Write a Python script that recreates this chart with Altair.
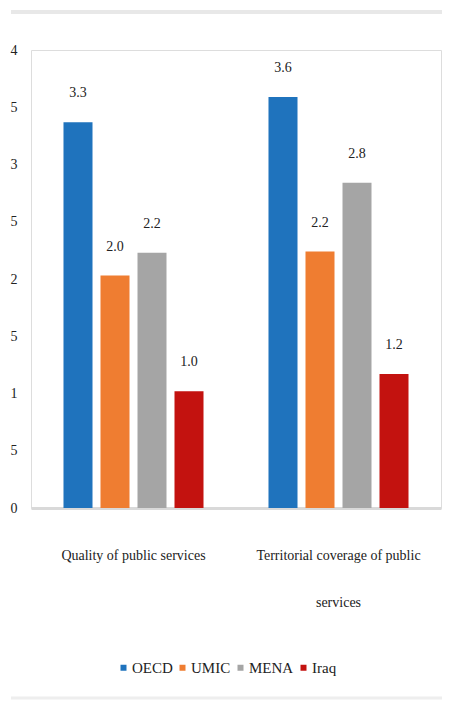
import altair as alt
import pandas as pd

categories = ["Quality of public services", "Territorial coverage of public services"]
series = ["OECD", "UMIC", "MENA", "Iraq"]
colors = ["#1f73bd", "#ef7d31", "#a5a5a5", "#c3120f"]
quality_values = [3.37, 2.03, 2.23, 1.02]
quality_labels = ["3.3", "2.0", "2.2", "1.0"]
coverage_values = [3.59, 2.24, 2.84, 1.17]
coverage_labels = ["3.6", "2.2", "2.8", "1.2"]
y_tick_values = [0, 0.5, 1, 1.5, 2, 2.5, 3, 3.5, 4]
y_tick_labels = ["0", "5", "1", "5", "2", "5", "3", "5", "4"]
x_label_lines = {
    "Quality of public services": ["Quality of public services"],
    "Territorial coverage of public services": ["Territorial coverage of public", "services"],
}

FONT = "Liberation Serif, Times New Roman, serif"

rows = []
for cat, vals, labs in [(categories[0], quality_values, quality_labels),
                        (categories[1], coverage_values, coverage_labels)]:
    for s, v, l in zip(series, vals, labs):
        rows.append({"category": cat, "series": s, "value": v, "label": l})
df = pd.DataFrame(rows)

# label expressions built from the arrays above
x_expr = "datum.label"
for k, lines in x_label_lines.items():
    arr = "[" + ",".join("'" + t + "'" for t in lines) + "]"
    x_expr = f"datum.label == '{k}' ? {arr} : ({x_expr})"
y_expr = "[" + ",".join("'" + t + "'" for t in y_tick_labels) + "][round(datum.value*2)]"

x_enc = alt.X(
    "category:N",
    sort=categories,
    scale=alt.Scale(paddingInner=0.2, paddingOuter=0.1),
    axis=alt.Axis(
        title=None, labelAngle=0, ticks=False, domain=True, domainColor="#d9d9d9",
        domainWidth=3, labelFont=FONT, labelFontSize=14, labelColor="#222222",
        labelPadding=40, labelLineHeight=47, labelLimit=400, labelExpr=x_expr,
    ),
)
xoff = alt.XOffset(
    "series:N", sort=series,
    scale=alt.Scale(domain=series, paddingInner=0.216, paddingOuter=0.324),
)
y_enc = alt.Y(
    "value:Q",
    scale=alt.Scale(domain=[0, 4], nice=False),
    axis=alt.Axis(
        title=None, values=y_tick_values, grid=False, domain=False, ticks=False,
        labelFont=FONT, labelFontSize=14, labelColor="#222222", labelPadding=14,
        labelExpr=y_expr,
    ),
)

base = alt.Chart(df)

bars = base.mark_bar().encode(
    x=x_enc,
    xOffset=xoff,
    y=y_enc,
    color=alt.Color(
        "series:N",
        sort=series,
        scale=alt.Scale(domain=series, range=colors),
        legend=alt.Legend(
            title=None, orient="none", legendX=85, legendY=610, direction="horizontal",
            symbolType="square", symbolSize=36, symbolStrokeWidth=0,
            labelFont=FONT, labelFontSize=15, labelColor="#222222",
            labelOffset=1, columnPadding=2,
        ),
    ),
)

texts = base.mark_text(dy=-29, baseline="middle", font=FONT, fontSize=14, color="#222222").encode(
    x=x_enc,
    xOffset=xoff,
    y=y_enc,
    text="label:N",
)

frame_df = pd.DataFrame({"k": [0]})
top_rule = alt.Chart(frame_df).mark_rule(color="#e8e8e8", strokeWidth=4).encode(
    x=alt.value(-20), x2=alt.value(411), y=alt.value(-38)
)
bottom_rule = alt.Chart(frame_df).mark_rule(color="#eeeeee", strokeWidth=3).encode(
    x=alt.value(-20), x2=alt.value(411), y=alt.value(648)
)

chart = alt.layer(bars, texts, top_rule, bottom_rule).properties(
    width=410,
    height=458,
    autosize=alt.AutoSizeParams(type="none"),
    padding={"left": 23, "top": 42, "right": 1, "bottom": 194},
).configure_view(stroke=None).configure(background="white")

chart.save("out.html", embed_options={"renderer": "svg", "actions": False})
